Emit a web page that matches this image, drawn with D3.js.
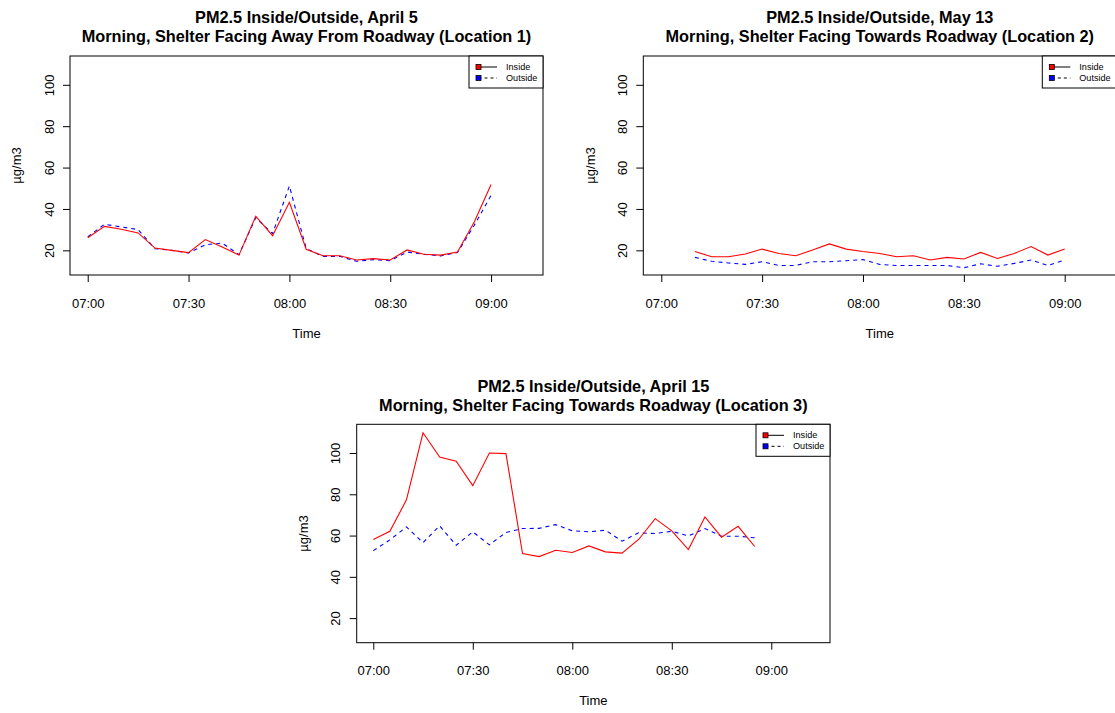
<!DOCTYPE html>
<html>
<head>
<meta charset="utf-8">
<script src="https://cdn.jsdelivr.net/npm/d3@7"></script>
<style>
  body { margin: 0; background: #fff; }
  text { font-family: "Liberation Sans", Arial, sans-serif; fill: #000; }
</style>
</head>
<body>
<svg id="chart" width="1115" height="713"></svg>
<script>
// readings every 5 minutes, PM2.5 in ug/m3
var loc1Times = ["07:00","07:05","07:10","07:15","07:20","07:25","07:30","07:35","07:40","07:45","07:50","07:55",
                 "08:00","08:05","08:10","08:15","08:20","08:25","08:30","08:35","08:40","08:45","08:50","08:55","09:00"];
var loc1Inside  = [26.1,31.6,30.2,28.4,21.1,20.0,18.9,25.2,21.6,17.7,36.5,27.1,43.2,20.5,17.4,17.4,15.3,16.0,15.3,20.2,18.1,17.7,19.2,33.7,51.8];
var loc1Outside = [26.5,32.6,31.3,30.0,20.8,20.0,18.7,22.7,23.5,17.9,35.8,28.1,51.1,20.8,17.1,17.1,14.7,15.5,15.0,19.2,18.1,17.3,18.9,32.1,46.6];

var loc2Times = ["07:10","07:15","07:20","07:25","07:30","07:35","07:40","07:45","07:50","07:55",
                 "08:00","08:05","08:10","08:15","08:20","08:25","08:30","08:35","08:40","08:45","08:50","08:55","09:00"];
var loc2Inside  = [19.4,16.9,16.9,18.2,20.6,18.5,17.4,20.2,23.1,20.6,19.4,18.5,16.9,17.4,15.3,16.6,15.8,19.0,16.1,18.5,21.8,17.7,20.6];
var loc2Outside = [16.6,14.7,13.9,13.2,14.5,12.7,12.7,14.5,14.5,15.0,15.5,13.2,12.7,12.7,12.7,12.7,11.6,13.5,12.3,13.7,15.3,12.7,15.3];

var loc3Times = ["07:00","07:05","07:10","07:15","07:20","07:25","07:30","07:35","07:40","07:45","07:50","07:55",
                 "08:00","08:05","08:10","08:15","08:20","08:25","08:30","08:35","08:40","08:45","08:50","08:55"];
var loc3Inside  = [58.1,62.1,77.3,109.8,98.1,96.0,84.2,100.0,99.7,51.3,49.8,52.9,51.8,55.0,52.1,51.5,58.1,68.2,62.3,53.2,69.0,59.2,64.5,54.7];
var loc3Outside = [52.7,57.9,64.2,56.6,64.7,55.3,61.8,55.5,61.5,63.4,63.5,65.3,62.3,61.8,62.6,57.3,61.3,61.0,62.1,59.8,63.4,59.7,59.7,58.9];

var xTickLabels = ["07:00","07:30","08:00","08:30","09:00"];
var yTicks = [20,40,60,80,100];
var seriesNames = ["Inside","Outside"];

var svg = d3.select("#chart");
var parseTime = d3.timeParse("%H:%M");

function minutesFrom(t, m) { return new Date(t.getTime() + m * 60000); }

function drawPanel(p) {
  var g = svg.append("g").attr("transform", "translate(" + p.left + "," + p.top + ")");
  var t0 = parseTime(xTickLabels[0]);

  var x = d3.scaleTime()
    .domain([minutesFrom(t0, p.xPad[0]), minutesFrom(parseTime(xTickLabels[xTickLabels.length - 1]), p.xPad[1])])
    .range([0, p.width]);
  var y = d3.scaleLinear().domain([8.08, 113.92]).range([p.height, 0]);

  // x axis
  var xa = g.append("g").attr("transform", "translate(0," + p.height + ")")
    .call(d3.axisBottom(x).tickValues(xTickLabels.map(parseTime)).tickSize(7).tickFormat(d3.timeFormat("%H:%M")));
  xa.select(".domain").remove();
  xa.selectAll("text").attr("y", 28).attr("dy", "0.35em").style("font-size", "13px");

  // y axis, labels turned like R's las=0
  var ya = g.append("g").call(d3.axisLeft(y).tickValues(yTicks).tickSize(7));
  ya.select(".domain").remove();
  ya.selectAll("text").remove();
  ya.selectAll(".tick").append("text")
    .attr("transform", "translate(-21,0) rotate(-90)")
    .attr("text-anchor", "middle")
    .attr("dy", "0.35em")
    .style("font-size", "13px")
    .text(function(d) { return d; });

  // box
  g.append("rect").attr("width", p.width).attr("height", p.height)
    .attr("fill", "none").attr("stroke", "#000").attr("stroke-width", 1);

  var line = d3.line()
    .x(function(d) { return x(parseTime(d[0])); })
    .y(function(d) { return y(d[1]); });

  g.append("path").datum(d3.zip(p.times, p.outside))
    .attr("d", line).attr("fill", "none").attr("stroke", "blue")
    .attr("stroke-width", 1.1).attr("stroke-dasharray", "4,4");
  g.append("path").datum(d3.zip(p.times, p.inside))
    .attr("d", line).attr("fill", "none").attr("stroke", "red").attr("stroke-width", 1.1);

  // titles
  g.append("text").attr("x", p.width / 2).attr("y", -38.5).attr("dy", "0.35em")
    .attr("text-anchor", "middle").style("font-size", "16.3px").style("font-weight", "bold").text(p.title1);
  g.append("text").attr("x", p.width / 2).attr("y", -19.5).attr("dy", "0.35em")
    .attr("text-anchor", "middle").style("font-size", "16.3px").style("font-weight", "bold").text(p.title2);

  g.append("text").attr("x", p.width / 2).attr("y", p.height + 58).attr("dy", "0.35em")
    .attr("text-anchor", "middle").style("font-size", "13px").text("Time");
  g.append("text").attr("transform", "translate(-53.3," + (p.height / 2) + ") rotate(-90)")
    .attr("dy", "0.35em").attr("text-anchor", "middle").style("font-size", "13px").text("µg/m3");

  // legend
  var lg = g.append("g").attr("transform", "translate(" + (p.width - 74) + ",0)");
  lg.append("rect").attr("width", 74).attr("height", 32)
    .attr("fill", "#fff").attr("stroke", "#000").attr("stroke-width", 1);
  var colors = ["red", "blue"], dashes = [null, "3,3"];
  seriesNames.forEach(function(name, i) {
    var ry = 11 + i * 11;
    lg.append("line").attr("x1", 9.5).attr("x2", 28).attr("y1", ry).attr("y2", ry)
      .attr("stroke", "#000").attr("stroke-width", 1).attr("stroke-dasharray", dashes[i]);
    lg.append("rect").attr("x", 7).attr("y", ry - 2.5).attr("width", 5).attr("height", 5)
      .attr("fill", colors[i]).attr("stroke", "#000").attr("stroke-width", 0.8);
    lg.append("text").attr("x", 37).attr("y", ry).attr("dy", "0.35em")
      .style("font-size", "9.1px").text(name);
  });
}

drawPanel({left: 70, top: 56, width: 473, height: 219, xPad: [-5.27, 15.45],
  times: loc1Times, inside: loc1Inside, outside: loc1Outside,
  title1: "PM2.5 Inside/Outside, April 5",
  title2: "Morning, Shelter Facing Away From Roadway (Location 1)"});

drawPanel({left: 643.3, top: 56, width: 473, height: 219, xPad: [-5.35, 15.35],
  times: loc2Times, inside: loc2Inside, outside: loc2Outside,
  title1: "PM2.5 Inside/Outside, May 13",
  title2: "Morning, Shelter Facing Towards Roadway (Location 2)"});

drawPanel({left: 356.7, top: 424.3, width: 473.3, height: 218.4, xPad: [-5.0, 17.7],
  times: loc3Times, inside: loc3Inside, outside: loc3Outside,
  title1: "PM2.5 Inside/Outside, April 15",
  title2: "Morning, Shelter Facing Towards Roadway (Location 3)"});
</script>
</body>
</html>
